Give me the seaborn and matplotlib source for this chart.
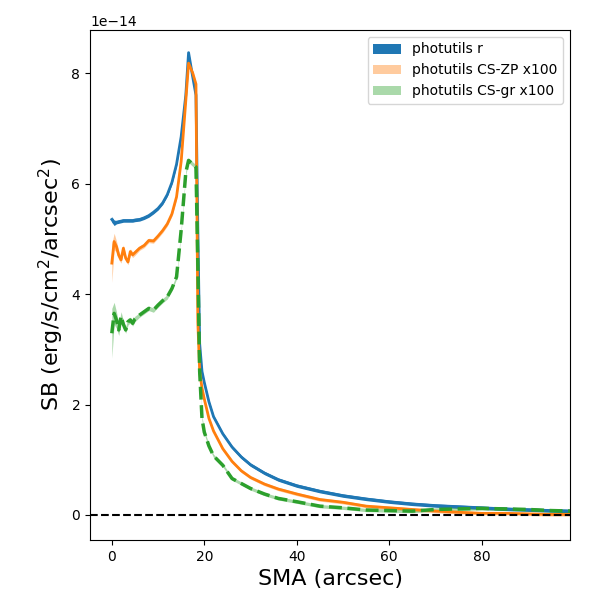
import numpy as np
import matplotlib
matplotlib.use('Agg')
import matplotlib.pyplot as plt
import seaborn as sns

# semi-major axis (arcsec)
sma = [0, 0.5, 1.0, 1.5, 2.0, 2.5, 3.0, 3.5, 4.0, 4.5, 5.0, 6.0, 7.0, 8.0, 9.0,
       10.0, 11.0, 12.0, 13.0, 14.0, 15.0, 16.0, 16.6, 17.5, 18.2, 18.6, 19.0,
       19.5, 20.0, 21.0, 22.0, 24.0, 26.0, 28.0, 30.0, 33.0, 36.0, 40.0, 45.0,
       50.0, 55.0, 60.0, 65.0, 70.0, 75.0, 80.0, 85.0, 90.0, 95.0, 100.0]

# surface brightness profiles, units of 1e-14
sb_r = [5.35, 5.29, 5.30, 5.31, 5.32, 5.33, 5.33, 5.33, 5.33, 5.33, 5.34, 5.35, 5.38, 5.42, 5.48,
        5.55, 5.65, 5.80, 6.02, 6.35, 6.85, 7.60, 8.37, 7.93, 7.60, 5.20, 3.10,
        2.60, 2.40, 2.05, 1.78, 1.47, 1.23, 1.05, 0.91, 0.76, 0.64, 0.53, 0.43,
        0.35, 0.29, 0.24, 0.20, 0.17, 0.15, 0.13, 0.11, 0.095, 0.08, 0.07]
err_r = [0.05, 0.05, 0.03, 0.03, 0.03, 0.03, 0.03, 0.03, 0.03, 0.03, 0.03, 0.03, 0.03, 0.03, 0.03,
         0.03, 0.03, 0.03, 0.03, 0.03, 0.03, 0.03, 0.03, 0.03, 0.03, 0.03, 0.03,
         0.03, 0.03, 0.03, 0.03, 0.03, 0.03, 0.03, 0.03, 0.03, 0.03, 0.03, 0.03,
         0.03, 0.03, 0.03, 0.03, 0.03, 0.03, 0.03, 0.03, 0.03, 0.03, 0.03]

sb_zp = [4.56, 4.95, 4.86, 4.70, 4.62, 4.83, 4.65, 4.58, 4.77, 4.71, 4.75, 4.83, 4.88, 4.97, 4.96,
         5.05, 5.15, 5.27, 5.45, 5.76, 6.40, 7.50, 8.18, 8.00, 7.80, 3.50, 2.60,
         2.30, 2.10, 1.75, 1.52, 1.20, 0.97, 0.80, 0.68, 0.56, 0.47, 0.38, 0.28,
         0.23, 0.16, 0.13, 0.10, 0.07, 0.05, 0.03, 0.03, 0.02, 0.01, 0.01]
err_zp = [0.35, 0.15, 0.10, 0.08, 0.06, 0.06, 0.05, 0.05, 0.05, 0.05, 0.05, 0.04, 0.04, 0.04, 0.04,
          0.04, 0.04, 0.04, 0.04, 0.04, 0.04, 0.04, 0.04, 0.04, 0.04, 0.04, 0.04,
          0.04, 0.04, 0.03, 0.03, 0.03, 0.03, 0.03, 0.03, 0.03, 0.03, 0.03, 0.03,
          0.03, 0.03, 0.03, 0.03, 0.03, 0.03, 0.03, 0.03, 0.03, 0.03, 0.03]

sb_gr = [3.29, 3.65, 3.53, 3.35, 3.60, 3.45, 3.35, 3.50, 3.53, 3.47, 3.55, 3.62, 3.68, 3.74, 3.71,
         3.80, 3.88, 3.95, 4.10, 4.31, 5.16, 6.20, 6.42, 6.35, 6.30, 4.55, 2.60,
         1.75, 1.50, 1.25, 1.07, 0.90, 0.66, 0.57, 0.48, 0.38, 0.30, 0.24, 0.16,
         0.13, 0.09, 0.08, 0.07, 0.10, 0.11, 0.12, 0.11, 0.10, 0.08, 0.07]
err_gr = [0.45, 0.20, 0.15, 0.10, 0.08, 0.07, 0.06, 0.06, 0.05, 0.05, 0.05, 0.04, 0.04, 0.04, 0.04,
          0.04, 0.04, 0.04, 0.04, 0.04, 0.04, 0.04, 0.04, 0.04, 0.04, 0.04, 0.04,
          0.04, 0.04, 0.03, 0.03, 0.03, 0.03, 0.03, 0.03, 0.03, 0.03, 0.03, 0.03,
          0.03, 0.03, 0.03, 0.03, 0.03, 0.03, 0.03, 0.03, 0.03, 0.03, 0.03]

scale = 1e-14
x = np.array(sma)

fig = plt.figure(figsize=(6, 6), dpi=100)
ax = fig.add_axes([0.15, 0.1, 0.8, 0.85])

profiles = [
    (sb_r, err_r, 'C0', 1.0, '-', 2.0, 'photutils r'),
    (sb_zp, err_zp, 'C1', 0.4, '-', 2.0, 'photutils CS-ZP x100'),
    (sb_gr, err_gr, 'C2', 0.4, '--', 2.5, 'photutils CS-gr x100'),
]
for sb, err, col, alpha, ls, lw, lab in profiles:
    y = np.array(sb) * scale
    e = np.array(err) * scale
    ax.fill_between(x, y - e, y + e, color=col, alpha=alpha, lw=0, label=lab)
    sns.lineplot(x=x, y=y, color=col, linestyle=ls, linewidth=lw,
                 estimator=None, legend=False, ax=ax)

ax.axhline(0, color='k', ls='--', lw=1.5)

ax.set_xlim(-4.72, 99.1)
ax.set_ylim(-0.453e-14, 8.78e-14)
ax.set_xlabel('SMA (arcsec)', fontsize=16)
ax.set_ylabel('SB (erg/s/cm$^2$/arcsec$^2$)', fontsize=16)
ax.legend(loc='upper right')

plt.savefig('out.png', dpi=100)
